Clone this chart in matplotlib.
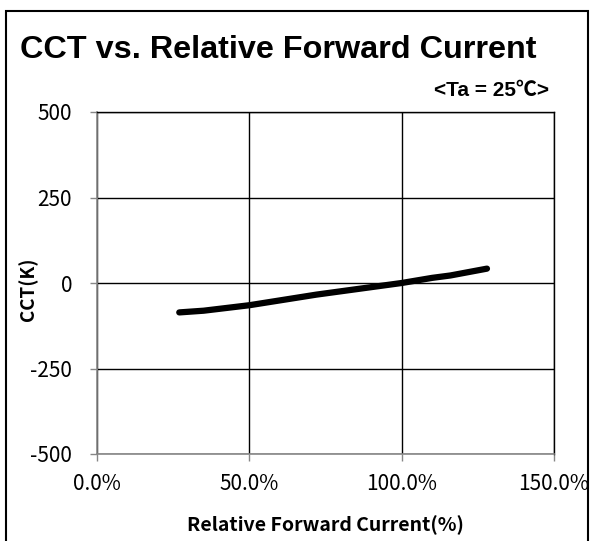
import matplotlib
matplotlib.use("Agg")
import matplotlib.pyplot as plt
from matplotlib.patches import Rectangle
from matplotlib.ticker import FuncFormatter

plt.rcParams['axes.unicode_minus'] = False

current_pct = [27, 35, 50, 72, 100, 110, 116, 128]
cct_shift = [-86, -81, -65, -34, 0, 15, 22, 42]
x_ticks = [0, 50, 100, 150]
y_ticks = [-500, -250, 0, 250, 500]

fig = plt.figure(figsize=(5.93, 5.41), dpi=100)
ax = fig.add_axes([97/593, 1-454/541, (554-97)/593, (454-112)/541])

ax.plot(current_pct, cct_shift, color='black', lw=4.5, solid_capstyle='round', zorder=3)
ax.set_xlim(0, 150)
ax.set_ylim(-500, 500)
ax.set_xticks(x_ticks)
ax.set_yticks(y_ticks)
ax.xaxis.set_major_formatter(FuncFormatter(lambda v, p: f"{v:.1f}%"))
ax.grid(True, color='black', lw=1)
ax.set_axisbelow(True)
for s in ['left', 'bottom']:
    ax.spines[s].set_color('#868686')
    ax.spines[s].set_linewidth(1.2)
for s in ['top', 'right']:
    ax.spines[s].set_color('black')
    ax.spines[s].set_linewidth(1)
ax.tick_params(direction='out', length=5, color='#868686', width=1, labelsize=15)
ax.tick_params(axis='x', pad=9)
ax.tick_params(axis='y', pad=13)
for lab in ax.get_xticklabels() + ax.get_yticklabels():
    lab.set_family(['Noto Sans CJK KR', 'DejaVu Sans'])
ax.set_xlabel('Relative Forward Current(%)', fontsize=14, fontweight='bold',
              family=['Noto Sans CJK KR', 'DejaVu Sans'], labelpad=14)
ax.set_ylabel('CCT(K)', fontsize=13.5, fontweight='bold',
              family=['Noto Sans CJK KR', 'DejaVu Sans'])
ax.yaxis.set_label_coords(-0.128, 0.482)

fig.text(20/593, 1-50/541, 'CCT vs. Relative Forward Current', fontsize=23.3, fontweight='bold',
         family=['Liberation Sans', 'DejaVu Sans'], va='center', ha='left')
fig.text(549/593, 1-91/541, '<Ta = 25\u2103>', fontsize=15, fontweight='bold',
         family=['Liberation Sans', 'Noto Sans CJK KR', 'DejaVu Sans'], va='center', ha='right')

fig.patches.append(Rectangle((6/593, -0.01), 582/593, 1-11/541 + 0.01, transform=fig.transFigure,
                             fill=False, edgecolor='black', lw=1.5))
fig.savefig('out.png', dpi=100, facecolor='white')
